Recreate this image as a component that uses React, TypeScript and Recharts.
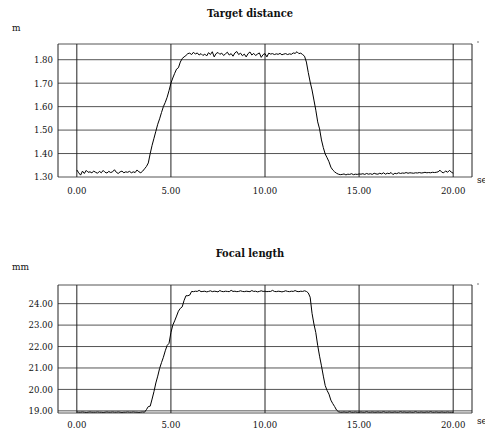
import { LineChart, Line, XAxis, YAxis, CartesianGrid } from 'recharts';

// Two stacked strip charts sharing one time base (samples every 0.1 s, 0..20 s).
const SAMPLE_STEP = 0.1;
const TIME_TICKS = [0, 5, 10, 15, 20];

// Target distance, metres
const DISTANCE_M = [
  1.330, 1.318, 1.308, 1.325, 1.315, 1.328, 1.320, 1.322, 1.318, 1.325,
  1.320, 1.316, 1.324, 1.318, 1.328, 1.320, 1.317, 1.324, 1.319, 1.322,
  1.331, 1.320, 1.315, 1.322, 1.325, 1.318, 1.322, 1.320, 1.324, 1.318,
  1.322, 1.319, 1.330, 1.322, 1.318, 1.325, 1.335, 1.345, 1.360, 1.400,
  1.435, 1.465, 1.495, 1.525, 1.548, 1.575, 1.600, 1.618, 1.640, 1.668,
  1.700, 1.722, 1.742, 1.760, 1.766, 1.790, 1.805, 1.812, 1.818, 1.826,
  1.828, 1.822, 1.832, 1.824, 1.829, 1.820, 1.826, 1.818, 1.824, 1.816,
  1.830, 1.822, 1.834, 1.812, 1.826, 1.831, 1.823, 1.828, 1.818, 1.825,
  1.832, 1.820, 1.826, 1.815, 1.829, 1.835, 1.822, 1.828, 1.817, 1.824,
  1.812, 1.826, 1.833, 1.820, 1.827, 1.818, 1.824, 1.829, 1.810, 1.822,
  1.826, 1.812, 1.828, 1.824, 1.826, 1.822, 1.825, 1.823, 1.827, 1.821,
  1.824, 1.826, 1.822, 1.825, 1.823, 1.829, 1.827, 1.834, 1.826, 1.828,
  1.822, 1.815, 1.790, 1.745, 1.705, 1.671, 1.628, 1.585, 1.535, 1.505,
  1.458, 1.425, 1.398, 1.382, 1.365, 1.342, 1.330, 1.322, 1.316, 1.312,
  1.310, 1.311, 1.313, 1.309, 1.312, 1.311, 1.314, 1.310, 1.312, 1.311,
  1.313, 1.312, 1.314, 1.311, 1.315, 1.312, 1.314, 1.311, 1.316, 1.313,
  1.312, 1.316, 1.313, 1.318, 1.312, 1.316, 1.314, 1.319, 1.310, 1.316,
  1.314, 1.318, 1.315, 1.317, 1.316, 1.319, 1.316, 1.318, 1.317, 1.316,
  1.318, 1.317, 1.319, 1.317, 1.318, 1.320, 1.318, 1.319, 1.318, 1.320,
  1.319, 1.320, 1.322, 1.329, 1.320, 1.318, 1.326, 1.320, 1.328, 1.321,
  1.316,
];
const DISTANCE_TICKS = [1.3, 1.4, 1.5, 1.6, 1.7, 1.8];

// Focal length, millimetres
const FOCAL_MM = [
  18.95, 18.94, 18.94, 18.95, 18.94, 18.93, 18.94, 18.95, 18.94, 18.94,
  18.94, 18.95, 18.94, 18.94, 18.93, 18.94, 18.95, 18.94, 18.94, 18.95,
  18.94, 18.94, 18.95, 18.94, 18.93, 18.94, 18.94, 18.95, 18.94, 18.94,
  18.95, 18.94, 18.94, 18.93, 18.94, 18.95, 18.94, 19.06, 19.20, 19.22,
  19.55, 19.90, 20.30, 20.62, 20.98, 21.25, 21.50, 21.80, 22.05, 22.15,
  22.65, 23.00, 23.20, 23.42, 23.65, 23.78, 23.85, 24.15, 24.37, 24.37,
  24.40, 24.57, 24.56, 24.58, 24.57, 24.62, 24.56, 24.57, 24.58, 24.55,
  24.57, 24.60, 24.56, 24.58, 24.57, 24.55, 24.61, 24.57, 24.56, 24.58,
  24.57, 24.56, 24.62, 24.57, 24.58, 24.56, 24.57, 24.60, 24.57, 24.56,
  24.58, 24.57, 24.56, 24.61, 24.57, 24.58, 24.55, 24.57, 24.60, 24.57,
  24.58, 24.56, 24.57, 24.57, 24.62, 24.57, 24.56, 24.58, 24.57, 24.55,
  24.57, 24.60, 24.57, 24.56, 24.58, 24.57, 24.61, 24.57, 24.56, 24.58,
  24.57, 24.60, 24.57, 24.50, 24.30, 23.55, 23.05, 22.65, 22.05, 21.55,
  21.10, 20.62, 20.18, 19.95, 19.78, 19.50, 19.34, 19.20, 19.04, 18.96,
  18.94, 18.94, 18.95, 18.94, 18.94, 18.96, 18.94, 18.94, 18.95, 18.94,
  18.94, 18.95, 18.94, 18.94, 18.96, 18.94, 18.94, 18.95, 18.94, 18.94,
  18.95, 18.94, 18.94, 18.96, 18.94, 18.94, 18.95, 18.94, 18.94, 18.95,
  18.94, 18.94, 18.96, 18.94, 18.95, 18.94, 18.94, 18.95, 18.94, 18.94,
  18.96, 18.94, 18.94, 18.95, 18.94, 18.94, 18.95, 18.94, 18.96, 18.94,
  18.94, 18.95, 18.94, 18.94, 18.95, 18.94, 18.94, 18.95, 18.94, 18.94,
  18.94,
];
const FOCAL_TICKS = [19, 20, 21, 22, 23, 24];

const FONT = "'DejaVu Serif Condensed', 'DejaVu Serif', serif";
const TICK = { fontSize: 9.5, fill: '#111', fontFamily: FONT };
const HGRID = '#555';
const VGRID = '#222';

const distanceRows = DISTANCE_M.map((v, i) => ({ t: i * SAMPLE_STEP, v }));
const focalRows = FOCAL_MM.map((v, i) => ({ t: i * SAMPLE_STEP, v }));

function Strip({ data, height, top, yDomain, yTicks, xAxisHeight, xTickMargin }: {
  data: Array<{ t: number; v: number }>;
  height: number;
  top: number;
  yDomain: [number, number];
  yTicks: number[];
  xAxisHeight: number;
  xTickMargin: number;
}) {
  return (
    <LineChart width={485} height={height} data={data}
               margin={{ top, right: 13, bottom: 0, left: 0 }}>
      <CartesianGrid stroke={HGRID} vertical={false} />
      <CartesianGrid stroke={VGRID} horizontal={false} />
      <XAxis dataKey="t" type="number" domain={[-1, 21]} ticks={TIME_TICKS}
             allowDataOverflow axisLine={false} tickLine={false} tickSize={0}
             tickMargin={xTickMargin} height={xAxisHeight} tick={TICK}
             tickFormatter={(v) => Number(v).toFixed(2)} interval={0} />
      <YAxis type="number" domain={yDomain} ticks={yTicks} allowDataOverflow
             axisLine={false} tickLine={false} tickSize={0} tickMargin={5}
             width={58} tick={TICK} interval={0}
             tickFormatter={(v) => Number(v).toFixed(2)} />
      <Line type="linear" dataKey="v" stroke="#000" strokeWidth={1}
            dot={false} activeDot={false} isAnimationActive={false} />
    </LineChart>
  );
}

export default function App() {
  return (
    <div style={{ position: 'absolute', left: 0, top: 0, width: 485, height: 439, background: '#fff', overflow: 'hidden' }}>
      <div style={{ position: 'absolute', left: 0, top: 0 }}>
        <Strip data={distanceRows} height={205} top={44} yDomain={[1.3, 1.867]}
               yTicks={DISTANCE_TICKS} xAxisHeight={28} xTickMargin={10} />
      </div>
      <div style={{ position: 'absolute', left: 0, top: 240 }}>
        <Strip data={focalRows} height={199} top={45} yDomain={[18.9, 24.87]}
               yTicks={FOCAL_TICKS} xAxisHeight={26} xTickMargin={8} />
      </div>
      <svg width={485} height={439} style={{ position: 'absolute', left: 0, top: 0, pointerEvents: 'none' }}>
        <g fill="#111" fontFamily={FONT}>
          <text x={250} y={17} textAnchor="middle" fontSize={11} fontWeight="bold">Target distance</text>
          <text x={250} y={257} textAnchor="middle" fontSize={11} fontWeight="bold">Focal length</text>
          <text x={12} y={31} fontSize={10}>m</text>
          <text x={477} y={183} fontSize={10}>sec</text>
          <text x={12} y={270} fontSize={10}>mm</text>
          <text x={477} y={424} fontSize={10}>sec</text>
        </g>
        <line x1={477} y1={42} x2={479} y2={42} stroke="#777" strokeWidth={1} />
        <line x1={477} y1={284} x2={479} y2={284} stroke="#777" strokeWidth={1} />
      </svg>
    </div>
  );
}
